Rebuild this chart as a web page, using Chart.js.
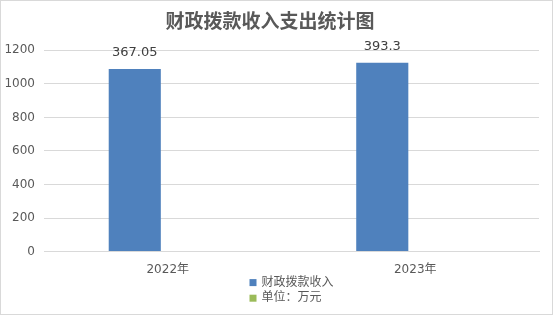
<!DOCTYPE html>
<html>
<head>
<meta charset="utf-8">
<script src="https://cdn.jsdelivr.net/npm/chart.js@4"></script>
<style>
  body { margin: 0; background: #fff; }
  #wrap { width: 553px; height: 315px; box-sizing: border-box; border: 1px solid #d9d9d9; }
  canvas { display: block; }
</style>
</head>
<body>
<div id="wrap"><canvas id="chart" width="551" height="313"></canvas></div>
<script>
const categories = ['2022年', '2023年'];
const seriesNames = ['财政拨款收入', '单位：万元'];
const incomeValues = [1088, 1126];
const unitValues = [0, 0];
const barLabels = ['367.05', '393.3'];
const yTicks = [0, 200, 400, 600, 800, 1000, 1200];

const textFont = "'DejaVu Sans', 'Noto Sans CJK SC', sans-serif";

// value labels above the blue bars
const barLabelPlugin = {
    id: 'barLabels',
    afterDatasetsDraw(chart) {
        const ctx = chart.ctx;
        const meta = chart.getDatasetMeta(0);
        ctx.save();
        ctx.font = '13px ' + textFont;
        ctx.fillStyle = '#404040';
        ctx.textAlign = 'center';
        ctx.textBaseline = 'middle';
        meta.data.forEach((bar, i) => {
            ctx.fillText(barLabels[i], bar.x, bar.y - 16);
        });
        ctx.restore();
    }
};

// stacked legend under the axis, centred on the plot area
const stackedLegend = {
    id: 'stackedLegend',
    afterDraw(chart) {
        const ctx = chart.ctx;
        const area = chart.chartArea;
        ctx.save();
        ctx.font = '12px ' + textFont;
        ctx.textBaseline = 'middle';
        ctx.textAlign = 'left';
        const widths = chart.data.datasets.map(ds => ctx.measureText(ds.label).width);
        const blockW = 7 + 5 + Math.max(...widths);
        const x = (area.left + area.right) / 2 - blockW / 2;
        chart.data.datasets.forEach((ds, i) => {
            const y = area.bottom + 31 + i * 15.6;
            ctx.fillStyle = ds.backgroundColor;
            ctx.fillRect(x, y - 3.5, 7, 7);
            ctx.fillStyle = '#595959';
            ctx.fillText(ds.label, x + 12, y);
        });
        ctx.restore();
    }
};

new Chart(document.getElementById('chart'), {
    type: 'bar',
    data: {
        labels: categories,
        datasets: [
            { label: seriesNames[0], data: incomeValues, backgroundColor: '#4f81bd' },
            { label: seriesNames[1], data: unitValues, backgroundColor: '#9bbb59' }
        ]
    },
    options: {
        responsive: false,
        animation: false,
        layout: { padding: { left: 0, right: 13, top: 0, bottom: 34 } },
        datasets: { bar: { categoryPercentage: 0.533, barPercentage: 0.79, borderWidth: 0 } },
        plugins: {
            legend: { display: false },
            tooltip: { enabled: false },
            title: {
                display: true,
                text: '财政拨款收入支出统计图',
                color: '#595959',
                font: { family: "'Noto Sans CJK SC', sans-serif", size: 19, weight: 'bold' },
                padding: { top: 8, bottom: 18.5 }
            }
        },
        scales: {
            x: {
                grid: { display: false },
                border: { color: '#d9d9d9' },
                ticks: { color: '#595959', font: { family: textFont, size: 12 }, padding: 3 }
            },
            y: {
                min: 0,
                max: 1200,
                afterBuildTicks: s => { s.ticks = yTicks.map(v => ({ value: v })); },
                afterFit: s => { s.width = 43; },
                grid: { color: '#d9d9d9', drawTicks: false },
                border: { display: false },
                ticks: {
                    color: '#595959',
                    font: { family: textFont, size: 12 },
                    padding: 9,
                    callback: v => String(v)
                }
            }
        }
    },
    plugins: [barLabelPlugin, stackedLegend]
});
</script>
</body>
</html>
